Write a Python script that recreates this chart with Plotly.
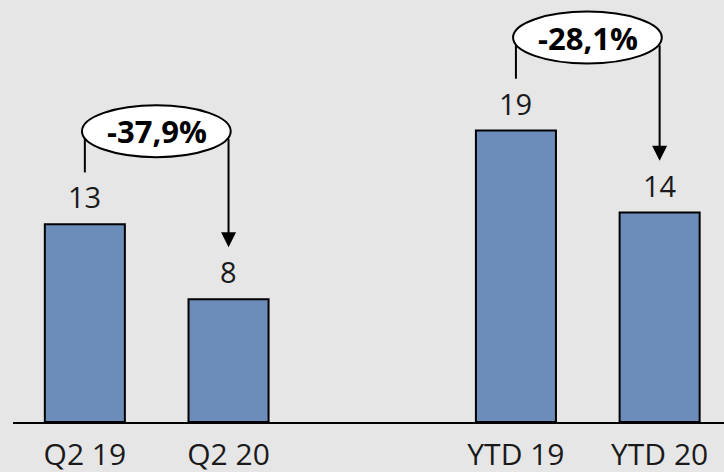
import plotly.graph_objects as go

# ---- data ----
categories = ["Q2 19", "Q2 20", "YTD 19", "YTD 20"]
slots = [0, 1, 3, 4]            # category slot index (one empty slot between groups)
values = [12.96, 8.05, 19.1, 13.73]
value_labels = ["13", "8", "19", "14"]
changes = ["-37,9%", "-28,1%"]
pairs = [(0, 1), (2, 3)]

# ---- styling ----
BAR = "#6c8cb9"
BG = "#e6e6e6"
FONT = "Open Sans"
TXT = "#1a1a1a"
STEM_GAP = 3.4      # gap between bar top and arrow ends (data units)
OVAL_RISE = 6.1     # oval centre above the higher bar (data units)
OVAL_HALF_H = 1.7
OVAL_PAD_L, OVAL_PAD_R = 0.02, 0.015

fig = go.Figure(
    go.Bar(
        x=slots, y=values, width=0.557,
        marker=dict(color=BAR, line=dict(color="black", width=2)),
        hoverinfo="skip",
    )
)

for s, v, t in zip(slots, values, value_labels):
    fig.add_annotation(x=s, y=v, text=t, showarrow=False, yanchor="bottom", yshift=6,
                       font=dict(family=FONT, size=29, color=TXT))

for (a, b), txt in zip(pairs, changes):
    xa, xb = slots[a], slots[b]
    va, vb = values[a], values[b]
    top = max(va, vb) + OVAL_RISE
    ox0, ox1 = xa - OVAL_PAD_L, xb + OVAL_PAD_R
    cx, rx = (ox0 + ox1) / 2, (ox1 - ox0) / 2
    # y of the oval's lower edge at x = xb
    dy = OVAL_HALF_H * max(0.0, 1 - ((xb - cx) / rx) ** 2) ** 0.5
    fig.add_shape(type="line", x0=xa, x1=xa, y0=va + STEM_GAP, y1=top,
                  line=dict(color="black", width=2))
    fig.add_annotation(x=xb, y=vb + STEM_GAP, ax=xb, ay=top - dy,
                       xref="x", yref="y", axref="x", ayref="y",
                       text="", showarrow=True, arrowhead=2, arrowsize=1.5,
                       arrowwidth=2, arrowcolor="black")
    fig.add_shape(type="circle", x0=ox0, x1=ox1, y0=top - OVAL_HALF_H, y1=top + OVAL_HALF_H,
                  fillcolor="white", line=dict(color="black", width=2))
    fig.add_annotation(x=(xa + xb) / 2, y=top, text=f"<b>{txt}</b>", showarrow=False,
                       font=dict(family=FONT, size=31, color="black"))

fig.update_layout(
    width=724, height=472,
    margin=dict(l=13, r=0, t=0, b=50),
    paper_bgcolor=BG, plot_bgcolor=BG,
    showlegend=False,
    xaxis=dict(range=[-0.5, 4.448], tickmode="array", tickvals=slots, ticktext=categories,
               showgrid=False, zeroline=False, showline=True, linecolor="black", linewidth=2,
               ticks="", ticklabelstandoff=5, automargin=False,
               tickfont=dict(family=FONT, size=30, color=TXT)),
    yaxis=dict(range=[0, 27.66], visible=False, fixedrange=True),
)

fig.write_html("out.html")
